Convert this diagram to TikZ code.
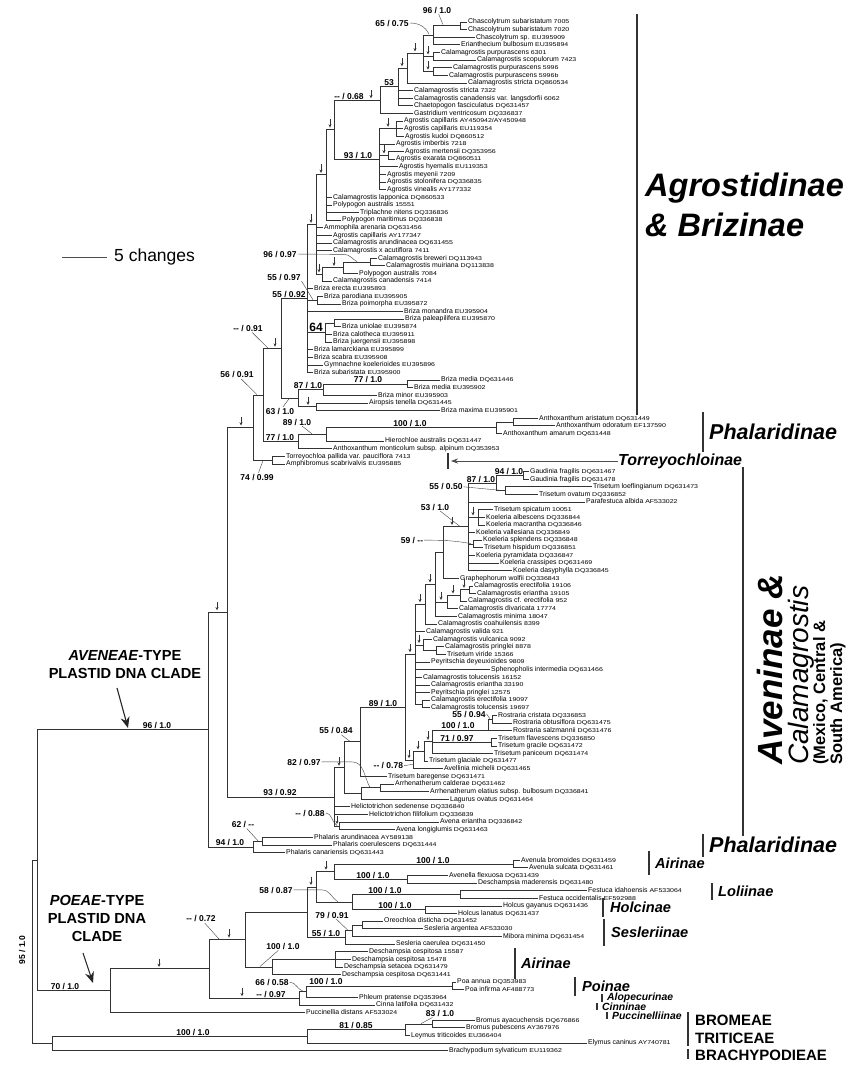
\documentclass[tikz,border=0pt]{standalone}
\usepackage{fontspec}
\setmainfont{Liberation Sans}
\newfontfamily\accfont[FakeStretch=1.25]{Liberation Sans}
\usetikzlibrary{arrows.meta}

\newcommand\spfont{\fontsize{6.9}{7}\selectfont}
\newcommand\accno[1]{{\accfont\fontsize{5.6}{6}\selectfont #1}}
% taxon: index, label x, parent, name, accession
\newcommand\taxon[5]{%
  \node[taxlab] (t#1) at (#2,#1) {#4 \accno{#5}};
  \draw[br] (#3) |- (t#1.west);}

\begin{document}
\begin{tikzpicture}[x=1pt,y=-1pt,
    br/.style={line width=0.75pt,draw=black!80},
    taxlab/.style={anchor=west,inner xsep=1pt,inner ysep=0pt,text height=5pt,text depth=1.4pt,font=\spfont},
    sup/.style={font=\fontsize{8.5}{9}\selectfont\bfseries,inner sep=0.8pt,text height=6.2pt,text depth=0pt},
    lead/.style={line width=0.4pt,draw=black!75},
    dnarr/.style={line width=0.6pt,draw=black!80,-{Stealth[length=3.2pt,width=3pt]}},
    gbar/.style={line width=1.6pt,draw=black!80},
    grp/.style={anchor=west,inner sep=0pt,font=\fontsize{14.6}{16}\selectfont\bfseries\itshape},
    sgrp/.style={anchor=west,inner sep=0pt,font=\fontsize{10.4}{12}\selectfont\bfseries\itshape},
    tribe/.style={anchor=west,inner sep=0pt,font=\fontsize{15}{16}\selectfont\bfseries}
  ]
\useasboundingbox (0,0) rectangle (856,1066);

% scale bar
\draw[line width=0.6pt,black!70] (62,257) -- (107,257);
\node[anchor=west,inner sep=0pt,font=\fontsize{17.5}{18}\selectfont] (scl) at (114,257) {5 changes};

\begin{scope}[y=-7.62pt,yshift=-14.38pt]
% internal nodes, Agrostidinae & Brizinae
\coordinate (c12) at (460,1.5);
\coordinate (nChas) at (433,2.75);
\coordinate (n56) at (433,5.5);
\coordinate (n78) at (433,7.5);
\coordinate (nX) at (423,5.1);
\coordinate (nY) at (407,7.05);
\coordinate (nW) at (398,9.5);
\coordinate (nV) at (380,11.25);
\coordinate (nAg1) at (396,15);
\coordinate (nAg2) at (388,18.5);
\coordinate (nAg) at (379,19);
\coordinate (nU) at (334,15.1);
\coordinate (nT) at (326,21.05);
\coordinate (nBre) at (370,32.5);
\coordinate (n343) at (343,33.25);
\coordinate (nR35) at (322,34.1);
\coordinate (nS) at (316,27.6);
\coordinate (nBp) at (317,37.5);
\coordinate (nB40) at (334,40.5);
\coordinate (nB64) at (325,41.75);
\coordinate (nQ) at (307,37.3);
\coordinate (nBm) at (407,48.5);
\coordinate (nM) at (323,49.25);
\coordinate (nAir) at (316,51.5);
\coordinate (nL) at (298,50.4);
\coordinate (nP) at (281,43.85);
\coordinate (nAnt) at (513,53.5);
\coordinate (nAnt2) at (496,54.25);
\coordinate (nHie) at (326,55.1);
\coordinate (nJ) at (298,56.05);
\coordinate (nK) at (263,49.95);
\coordinate (nTorr) at (272,58.5);
\coordinate (nH) at (253,54.2);
% Aveninae
\coordinate (nGau) at (523,60.5);
\coordinate (nTlo) at (505,62.5);
\coordinate (n496) at (496,61.5);
\coordinate (nKo1) at (478,66);
\coordinate (nKo2) at (473,69.5);
\coordinate (n468) at (468,67.25);
\coordinate (nGra) at (443,70.6);
\coordinate (nC75) at (469,75.5);
\coordinate (nC460) at (460,76.25);
\coordinate (nC447) at (447,77.1);
\coordinate (n435) at (435,74.8);
\coordinate (n425) at (425,77.4);
\coordinate (nVir) at (436,83.5);
\coordinate (nVul) at (423,82.75);
\coordinate (nC90) at (422,90.5);
\coordinate (n416) at (415,83.95);
\coordinate (nR2) at (492,92.5);
\coordinate (nR) at (488,93.9);
\coordinate (nTf) at (491,95.5);
\coordinate (n432) at (432,95.45);
\coordinate (n424) at (424,96.7);
\coordinate (n413) at (413,97.85);
\coordinate (n405) at (405,90.9);
\coordinate (n360) at (360,95.45);
\coordinate (nArr) at (380,101.5);
\coordinate (n361) at (361,102.25);
\coordinate (n344) at (344,98.85);
\coordinate (nAv) at (339,106.5);
\coordinate (n334) at (334,102.7);
\coordinate (nG) at (227,78.45);
\coordinate (nPhal2) at (262,108.5);
\coordinate (nPhal) at (253,109.25);
\coordinate (nF) at (208,93.85);
% Poeae and outgroups
\coordinate (nAvu) at (513,111.5);
\coordinate (nAvl) at (407,113.5);
\coordinate (nP334) at (334,112.5);
\coordinate (nFes) at (460,115.5);
\coordinate (nHol) at (425,117.5);
\coordinate (nP352) at (352,116.5);
\coordinate (nP316) at (316,114.5);
\coordinate (nOre2) at (362,119.5);
\coordinate (nOre) at (352,120.25);
\coordinate (nSes) at (345,121.1);
\coordinate (nC1) at (307,117.8);
\coordinate (nDes1) at (335,124);
\coordinate (nDes) at (272,125);
\coordinate (n245) at (245,121.4);
\coordinate (nPoa) at (452,127.5);
\coordinate (nPh) at (306,128.25);
\coordinate (n299) at (299,129.1);
\coordinate (n209) at (209,125.25);
\coordinate (n110) at (110,128.1);
\coordinate (nE) at (37,111);
\coordinate (nBro) at (432,132.5);
\coordinate (nLey) at (405,133.25);
\coordinate (nTri) at (307,134.1);
\coordinate (nOut) at (52,135.05);
\coordinate (nD) at (32,123);

% terminal taxa
\taxon{1}{467}{c12}{Chascolytrum subaristatum}{7005}
\taxon{2}{467}{c12}{Chascolytrum subaristatum}{7020}
\taxon{3}{475}{nChas}{Chascolytrum sp.}{EU395909}
\taxon{4}{460}{nChas}{Erianthecium bulbosum}{EU395894}
\taxon{5}{440}{n56}{Calamagrostis purpurascens}{6301}
\taxon{6}{476}{n56}{Calamagrostis scopulorum}{7423}
\taxon{7}{452}{n78}{Calamagrostis purpurascens}{5996}
\taxon{8}{448}{n78}{Calamagrostis purpurascens}{5996b}
\taxon{9}{467}{nY}{Calamagrostis stricta}{DQ860534}
\taxon{10}{413}{nW}{Calamagrostis stricta}{7322}
\taxon{11}{413}{nW}{Calamagrostis canadensis var. langsdorfii}{6062}
\taxon{12}{413}{nW}{Chaetopogon fasciculatus}{DQ631457}
\taxon{13}{413}{nV}{Gastridium ventricosum}{DQ336837}
\taxon{14}{403}{nAg1}{Agrostis capillaris}{AY450942/AY450948}
\taxon{15}{403}{nAg1}{Agrostis capillaris}{EU119354}
\taxon{16}{404}{nAg1}{Agrostis kudoi}{DQ860512}
\taxon{17}{395}{nAg}{Agrostis imberbis}{7218}
\taxon{18}{404}{nAg2}{Agrostis mertensii}{DQ353956}
\taxon{19}{395}{nAg2}{Agrostis exarata}{DQ860511}
\taxon{20}{398}{nAg}{Agrostis hyemalis}{EU119353}
\taxon{21}{386}{nAg}{Agrostis meyenii}{7209}
\taxon{22}{386}{nAg}{Agrostis stolonifera}{DQ336835}
\taxon{23}{386}{nAg}{Agrostis vinealis}{AY177332}
\taxon{24}{332}{nT}{Calamagrostis lapponica}{DQ860533}
\taxon{25}{332}{nT}{Polypogon australis}{15551}
\taxon{26}{359}{nT}{Triplachne nitens}{DQ336836}
\taxon{27}{341}{nT}{Polypogon maritimus}{DQ336838}
\taxon{28}{323}{nS}{Ammophila arenaria}{DQ631456}
\taxon{29}{332}{nS}{Agrostis capillaris}{AY177347}
\taxon{30}{332}{nS}{Calamagrostis arundinacea}{DQ631455}
\taxon{31}{332}{nS}{Calamagrostis x acutiflora}{7411}
\taxon{32}{377}{nBre}{Calamagrostis breweri}{DQ113943}
\taxon{33}{385}{nBre}{Calamagrostis muiriana}{DQ113838}
\taxon{34}{358}{n343}{Polypogon australis}{7084}
\taxon{35}{332}{nR35}{Calamagrostis canadensis}{7414}
\taxon{36}{313}{nQ}{Briza erecta}{EU395893}
\taxon{37}{323}{nBp}{Briza parodiana}{EU395905}
\taxon{38}{341}{nBp}{Briza poimorpha}{EU395872}
\taxon{39}{403}{nQ}{Briza monandra}{EU395904}
\taxon{40}{404}{nB40}{Briza paleapilifera}{EU395870}
\taxon{41}{341}{nB40}{Briza uniolae}{EU395874}
\taxon{42}{332}{nB64}{Briza calotheca}{EU395911}
\taxon{43}{332}{nB64}{Briza juergensii}{EU395898}
\taxon{44}{313}{nQ}{Briza lamarckiana}{EU395899}
\taxon{45}{313}{nQ}{Briza scabra}{EU395908}
\taxon{46}{323}{nQ}{Gymnachne koelerioides}{EU395896}
\taxon{47}{313}{nQ}{Briza subaristata}{EU395900}
\taxon{48}{440}{nBm}{Briza media}{DQ631446}
\taxon{49}{413}{nBm}{Briza media}{EU395902}
\taxon{50}{377}{nM}{Briza minor}{EU395903}
\taxon{51}{368}{nAir}{Airopsis tenella}{DQ631445}
\taxon{52}{440}{nAir}{Briza maxima}{EU395901}
\taxon{53}{538}{nAnt}{Anthoxanthum aristatum}{DQ631449}
\taxon{54}{555}{nAnt}{Anthoxanthum odoratum}{EF137590}
\taxon{55}{502}{nAnt2}{Anthoxanthum amarum}{DQ631448}
\taxon{56}{384}{nHie}{Hierochloe australis}{DQ631447}
\taxon{57}{332}{nJ}{Anthoxanthum monticolum subsp. alpinum}{DQ353953}
\taxon{58}{285}{nTorr}{Torreyochloa pallida var. pauciflora}{7413}
\taxon{59}{285}{nTorr}{Amphibromus scabrivalvis}{EU395885}
\taxon{60}{529}{nGau}{Gaudinia fragilis}{DQ631467}
\taxon{61}{529}{nGau}{Gaudinia fragilis}{DQ631478}
\taxon{62}{592}{nTlo}{Trisetum loeflingianum}{DQ631473}
\taxon{63}{538}{nTlo}{Trisetum ovatum}{DQ336852}
\taxon{64}{585}{n468}{Parafestuca albida}{AF533022}
\taxon{65}{493}{nKo1}{Trisetum spicatum}{10051}
\taxon{66}{485}{nKo1}{Koeleria albescens}{DQ336844}
\taxon{67}{485}{nKo1}{Koeleria macrantha}{DQ336846}
\taxon{68}{475}{n468}{Koeleria vallesiana}{DQ336849}
\taxon{69}{482}{nKo2}{Koeleria splendens}{DQ336848}
\taxon{70}{483}{nKo2}{Trisetum hispidum}{DQ336851}
\taxon{71}{475}{n468}{Koeleria pyramidata}{DQ336847}
\taxon{72}{499}{n468}{Koeleria crassipes}{DQ631469}
\taxon{73}{512}{n468}{Koeleria dasyphylla}{DQ336845}
\taxon{74}{459}{nGra}{Graphephorum wolfii}{DQ336843}
\taxon{75}{473}{nC75}{Calamagrostis erectifolia}{19106}
\taxon{76}{476}{nC75}{Calamagrostis eriantha}{19105}
\taxon{77}{467}{nC460}{Calamagrostis cf. erectifolia}{952}
\taxon{78}{458}{nC447}{Calamagrostis divaricata}{17774}
\taxon{79}{457}{n435}{Calamagrostis minima}{18047}
\taxon{80}{437}{n425}{Calamagrostis coahuilensis}{8399}
\taxon{81}{425}{n416}{Calamagrostis valida}{921}
\taxon{82}{432}{nVul}{Calamagrostis vulcanica}{9092}
\taxon{83}{444}{nVir}{Calamagrostis pringlei}{8878}
\taxon{84}{446}{nVir}{Trisetum viride}{15366}
\taxon{85}{430}{n416}{Peyritschia deyeuxioides}{9809}
\taxon{86}{490}{n416}{Sphenopholis intermedia}{DQ631466}
\taxon{87}{422}{n416}{Calamagrostis tolucensis}{16152}
\taxon{88}{430}{n416}{Calamagrostis eriantha}{33190}
\taxon{89}{430}{n416}{Peyritschia pringlei}{12575}
\taxon{90}{430}{nC90}{Calamagrostis erectifolia}{19097}
\taxon{91}{430}{nC90}{Calamagrostis tolucensis}{19697}
\taxon{92}{497}{nR2}{Rostraria cristata}{DQ336853}
\taxon{93}{512}{nR2}{Rostraria obtusiflora}{DQ631475}
\taxon{94}{512}{nR}{Rostraria salzmannii}{DQ631476}
\taxon{95}{497}{nTf}{Trisetum flavescens}{DQ336850}
\taxon{96}{497}{nTf}{Trisetum gracile}{DQ631472}
\taxon{97}{493}{n432}{Trisetum paniceum}{DQ631474}
\taxon{98}{428}{n424}{Trisetum glaciale}{DQ631477}
\taxon{99}{443}{n413}{Avellinia michelii}{DQ631465}
\taxon{100}{387}{n360}{Trisetum baregense}{DQ631471}
\taxon{101}{394}{nArr}{Arrhenatherum calderae}{DQ631462}
\taxon{102}{429}{nArr}{Arrhenatherum elatius subsp. bulbosum}{DQ336841}
\taxon{103}{449}{n361}{Lagurus ovatus}{DQ631464}
\taxon{104}{350}{n334}{Helictotrichon sedenense}{DQ336840}
\taxon{105}{368}{n334}{Helictotrichon filifolium}{DQ336839}
\taxon{106}{439}{nAv}{Avena eriantha}{DQ336842}
\taxon{107}{395}{nAv}{Avena longiglumis}{DQ631463}
\taxon{108}{313}{nPhal2}{Phalaris arundinacea}{AY589138}
\taxon{109}{332}{nPhal2}{Phalaris coerulescens}{DQ631444}
\taxon{110}{285}{nPhal}{Phalaris canariensis}{DQ631443}
\taxon{111}{520}{nAvu}{Avenula bromoides}{DQ631459}
\taxon{112}{528}{nAvu}{Avenula sulcata}{DQ631461}
\taxon{113}{448}{nAvl}{Avenella flexuosa}{DQ631439}
\taxon{114}{477}{nAvl}{Deschampsia maderensis}{DQ631480}
\taxon{115}{587}{nFes}{Festuca idahoensis}{AF533064}
\taxon{116}{538}{nFes}{Festuca occidentalis}{EF592988}
\taxon{117}{502}{nHol}{Holcus gayanus}{DQ631436}
\taxon{118}{457}{nHol}{Holcus lanatus}{DQ631437}
\taxon{119}{383}{nOre2}{Oreochloa disticha}{DQ631452}
\taxon{120}{423}{nOre2}{Sesleria argentea}{AF533030}
\taxon{121}{502}{nOre}{Mibora minima}{DQ631454}
\taxon{122}{395}{nSes}{Sesleria caerulea}{DQ631450}
\taxon{123}{368}{nDes1}{Deschampsia cespitosa}{15587}
\taxon{124}{351}{nDes1}{Deschampsia cespitosa}{15478}
\taxon{125}{343}{nDes1}{Deschampsia setacea}{DQ631479}
\taxon{126}{341}{nDes}{Deschampsia cespitosa}{DQ631441}
\taxon{127}{456}{nPoa}{Poa annua}{DQ353983}
\taxon{128}{464}{nPoa}{Poa infirma}{AF488773}
\taxon{129}{358}{nPh}{Phleum pratense}{DQ353964}
\taxon{130}{375}{n299}{Cinna latifolia}{DQ631432}
\taxon{131}{305}{n110}{Puccinellia distans}{AF533024}
\taxon{132}{475}{nBro}{Bromus ayacuchensis}{DQ676866}
\taxon{133}{465}{nBro}{Bromus pubescens}{AY367976}
\taxon{134}{410}{nLey}{Leymus triticoides}{EU366404}
\taxon{135}{587}{nTri}{Elymus caninus}{AY740781}
\taxon{136}{448}{nOut}{Brachypodium sylvaticum}{EU119362}

% internal branches
\foreach \c/\p in {c12/nChas,nChas/nX,n56/nX,n78/nX,nX/nY,nY/nW,nW/nV,nV/nU,
    nAg1/nAg,nAg2/nAg,nAg/nU,nU/nT,nT/nS,nBre/n343,n343/nR35,nR35/nS,nS/nQ,
    nBp/nQ,nB40/nB64,nB64/nQ,nQ/nP,nBm/nM,nM/nL,nAir/nL,nL/nP,nP/nK,
    nAnt/nAnt2,nAnt2/nHie,nHie/nJ,nJ/nK,nK/nH,nTorr/nH,nH/nG,
    nGau/n496,nTlo/n496,n496/n468,nKo1/n468,nKo2/n468,n468/nGra,nGra/n435,
    nC75/nC460,nC460/nC447,nC447/n435,n435/n425,n425/n416,nVir/nVul,nVul/n416,
    nC90/n416,n416/n405,nR2/nR,nR/n432,nTf/n432,n432/n424,n424/n413,n413/n405,
    n405/n360,n360/n344,nArr/n361,n361/n344,n344/n334,nAv/n334,n334/nG,nG/nF,
    nPhal2/nPhal,nPhal/nF,nF/nE,
    nAvu/nP334,nAvl/nP334,nP334/nP316,nFes/nP352,nHol/nP352,nP352/nP316,nP316/nC1,
    nOre2/nOre,nOre/nSes,nSes/nC1,nC1/n245,nDes1/nDes,nDes/n245,n245/n209,
    nPoa/nPh,nPh/n299,n299/n209,n209/n110,n110/nE,nE/nD,
    nBro/nLey,nLey/nTri,nTri/nOut,nOut/nD}
  \draw[br] (\p) |- (\c);

% small arrows on branches
\foreach \mx/\my in {428/5.5,428/7.5,415/5.1,402/7.05,371/11.25,388/15,384/18.5,
    330/15.1,321/21.05,311/27.6,319/34.1,334/33.25,275/43.85,308/51.5,241/54.2,217/78.45,
    473/66,452/67.25,430/74.8,420/77.4,441/77.1,453/76.25,464/75.5,419/82.75,410/83.95,
    428/95.45,418/96.7,409/97.85,339/98.85,337/106.5,
    326/112.5,311/114.5,229/121.4,242/129.1,159/125.25}
  \draw[dnarr] (\mx,\my-1.35) -- (\mx,\my-0.25);

% support values
\node[sup] (s1) at (437,-0.58) {96 / 1.0};
\draw[lead] (s1) -- (443,1.35);
\node[sup] (s2) at (392,1.13) {65 / 0.75};
\draw[lead] (s2.east) to[out=0,in=115] (429,2.6);
\node[sup,anchor=south] (s3) at (389,9.5) {53};
\node[sup,anchor=south] (s4) at (349,11.25) {-{}- / 0.68};
\node[sup,anchor=south] (s5) at (358,19) {93 / 1.0};
\node[sup] (s6) at (280,31.45) {96 / 0.97};
\draw[lead] (s6.east) -- (344,31.5) to[out=0,in=150] (357,32.45);
\node[sup] (s7) at (284,34.46) {55 / 0.97};
\draw[lead] (s7.south east) -- (313,37.45);
\node[sup,anchor=south] (s8) at (289,37.3) {55 / 0.92};
\node[sup,anchor=south,font=\fontsize{12}{13}\selectfont\bfseries] (s9) at (316,41.75) {64};
\node[sup,anchor=south] (s10) at (308,49.25) {87 / 1.0};
\node[sup,anchor=south] (s11) at (368,48.5) {77 / 1.0};
\node[sup] (s12) at (280,52.05) {63 / 1.0};
\draw[lead] (s12) -- (289,50.45);
\node[sup] (s13) at (297,53.5) {89 / 1.0};
\draw[lead] (s13) -- (312,55.05);
\node[sup,anchor=south] (s14) at (410,54.25) {100 / 1.0};
\node[sup,anchor=south] (s15) at (280,56.05) {77 / 1.0};
\node[sup] (s16) at (257,60.7) {74 / 0.99};
\draw[lead] (s16) -- (263,58.55);
\node[sup] (s17) at (248,41.2) {-{}- / 0.91};
\draw[lead] (s17) -- (268,43.8);
\node[sup] (s18) at (237,47.3) {56 / 0.91};
\draw[lead] (s18) -- (257,49.9);
\node[sup,anchor=south] (s19) at (509,60.5) {94 / 1.0};
\node[sup,anchor=south] (s20) at (481,61.5) {87 / 1.0};
\node[sup] (s21) at (446,62.0) {55 / 0.50};
\draw[lead] (s21.east) -- (500,62.45);
\node[sup] (s22) at (435,64.65) {53 / 1.0};
\draw[lead] (s22) -- (460,67.2);
\node[sup] (s23) at (412,69.0) {59 / -{}-};
\draw[lead] (s23.east) to[out=0,in=170] (471,69.45);
\node[sup,anchor=south] (s24) at (383,90.9) {89 / 1.0};
\node[sup,anchor=south] (s25) at (458,93.9) {100 / 1.0};
\node[sup] (s26) at (469,91.8) {55 / 0.94};
\draw[lead] (s26.east) -- (490,92.45);
\node[sup,anchor=south] (s27) at (457,95.5) {71 / 0.97};
\node[sup,anchor=east] (s28) at (404,98.6) {-{}- / 0.78};
\draw[lead] (s28.east) -- (413,98.4);
\node[sup] (s29) at (336,94.0) {55 / 0.84};
\draw[lead] (s29) -- (350,95.4);
\node[sup] (s30) at (304,98.1) {82 / 0.97};
\draw[lead] (s30.east) -- (352,98.1) to[out=0,in=120] (370,101.45);
\node[sup,anchor=south] (s31) at (280,102.7) {93 / 0.92};
\node[sup] (s32) at (310,104.8) {-{}- / 0.88};
\draw[lead] (s32.east) to[out=0,in=150] (337,106.45);
\node[sup] (s33) at (243,106.3) {62 / -{}-};
\draw[lead] (s33) -- (258,108.45);
\node[sup,anchor=south] (s34) at (230,109.25) {94 / 1.0};
\node[sup,anchor=south] (s35) at (157,93.85) {96 / 1.0};
\node[sup,anchor=south] (s36) at (433,111.5) {100 / 1.0};
\node[sup,anchor=south] (s37) at (373,113.5) {100 / 1.0};
\node[sup,anchor=south] (s38) at (385,115.5) {100 / 1.0};
\node[sup,anchor=south] (s39) at (395,117.5) {100 / 1.0};
\node[sup] (s40) at (276,114.9) {58 / 0.87};
\draw[lead] (s40.east) -- (322,114.9) to[out=0,in=150] (338,116.45);
\node[sup] (s41) at (332,118.2) {79 / 0.91};
\draw[lead] (s41) -- (348,120.2);
\node[sup,anchor=south] (s42) at (326,121.1) {55 / 1.0};
\node[sup] (s43) at (201,118.7) {-{}- / 0.72};
\draw[lead] (s43) -- (219,121.35);
\node[sup] (s44) at (283,122.3) {100 / 1.0};
\draw[lead] (s44) -- (260,124.95);
\node[sup] (s45) at (272,127) {66 / 0.58};
\draw[lead] (s45.east) to[out=0,in=160] (303,128.2);
\node[sup,anchor=south] (s46) at (326,127.5) {100 / 1.0};
\node[sup,anchor=south] (s47) at (271,129.1) {-{}- / 0.97};
\node[sup,anchor=south] (s48) at (65,128.1) {70 / 1.0};
\node[sup] (s49) at (440,131.1) {83 / 1.0};
\draw[lead] (s49) -- (421,132.45);
\node[sup,anchor=south] (s50) at (356,133.25) {81 / 0.85};
\node[sup,anchor=south] (s51) at (193,134.1) {100 / 1.0};
\node[sup,rotate=90] (s52) at (22,122.8) {95 / 1.0};
\end{scope}

% clade names on the right
\draw[gbar] (637,14) -- (637,415);
\node[grp,font=\fontsize{32.5}{40}\selectfont\bfseries\itshape,align=left] (agro) at (645,205) {Agrostidinae\\\& Brizinae};
\draw[gbar] (703,412) -- (703,452);
\node[grp,font=\fontsize{21.5}{24}\selectfont\bfseries\itshape] (phal1) at (709,432) {Phalaridinae};
\draw[line width=2.4pt,black!80] (448,453) -- (448,469);
\node[grp,font=\fontsize{16}{18}\selectfont\bfseries\itshape] (torr) at (618,461) {Torreyochloinae};
\coordinate (torrtip) at (451,461);
\draw[line width=0.8pt,black!70,-{Stealth[length=7pt,width=5pt]}] (torr.west) -- (torrtip);
\draw[gbar] (743,467) -- (743,836);
\node[rotate=90,anchor=base west,inner sep=0pt,font=\fontsize{35}{36}\selectfont\bfseries\itshape] (ave1) at (782,765) {Aveninae \&};
\node[rotate=90,anchor=base west,inner sep=0pt,font=\fontsize{28}{30}\selectfont\itshape] (ave2) at (808,765) {Calamagrostis};
\node[rotate=90,anchor=base west,inner sep=0pt,font=\fontsize{16.5}{18}\selectfont\bfseries] (ave3) at (825,765) {(Mexico, Central \&};
\node[rotate=90,anchor=base west,inner sep=0pt,font=\fontsize{16.5}{18}\selectfont\bfseries] (ave4) at (842,765) {South America)};
\draw[gbar] (703,834) -- (703,857);
\node[grp,font=\fontsize{21.5}{24}\selectfont\bfseries\itshape] (phal2) at (709,845) {Phalaridinae};
\draw[gbar] (649,851) -- (649,875);
\node[grp] (air1) at (655,863) {Airinae};
\draw[gbar] (712,883) -- (712,900);
\node[grp] (loli) at (718,891) {Loliinae};
\draw[gbar] (603,898) -- (603,917);
\node[grp] (holc) at (610,907) {Holcinae};
\draw[gbar] (604,919) -- (604,946);
\node[grp] (sesl) at (611,932) {Sesleriinae};
\draw[gbar] (515,948) -- (515,979);
\node[grp] (air2) at (521,963) {Airinae};
\draw[gbar] (575,977) -- (575,996);
\node[grp] (poin) at (582,986) {Poinae};
\draw[gbar] (602,994) -- (602,1002);
\node[sgrp] (alop) at (607,998) {Alopecurinae};
\draw[gbar] (597,1003) -- (597,1010);
\node[sgrp] (cinn) at (602,1006.5) {Cinninae};
\draw[gbar] (607,1012) -- (607,1019);
\node[sgrp] (pucc) at (612,1015.5) {Puccinelliinae};
\draw[gbar] (688,1012) -- (688,1046);
\draw[gbar] (688,1049) -- (688,1059);
\node[tribe] (brom) at (695,1020) {BROMEAE};
\node[tribe] (trit) at (695,1038) {TRITICEAE};
\node[tribe] (brac) at (695,1055) {BRACHYPODIEAE};

% plastid clade labels
\node[align=center,inner sep=0pt,font=\fontsize{14.6}{18}\selectfont\bfseries] (avtype) at (125,665) {\textit{AVENEAE}-TYPE\\PLASTID DNA CLADE};
\coordinate (avtail) at (117,688);
\coordinate (avtip) at (128,728);
\draw[line width=1.1pt,black!85,-{Stealth[length=11pt,width=9pt]}] (avtail) -- (avtip);
\node[align=center,inner sep=0pt,font=\fontsize{14.6}{18}\selectfont\bfseries] (potype) at (97,918) {\textit{POEAE}-TYPE\\PLASTID DNA\\CLADE};
\coordinate (potail) at (83,953);
\coordinate (potip) at (93,983);
\draw[line width=1.1pt,black!85,-{Stealth[length=11pt,width=9pt]}] (potail) -- (potip);
\end{tikzpicture}
\end{document}
